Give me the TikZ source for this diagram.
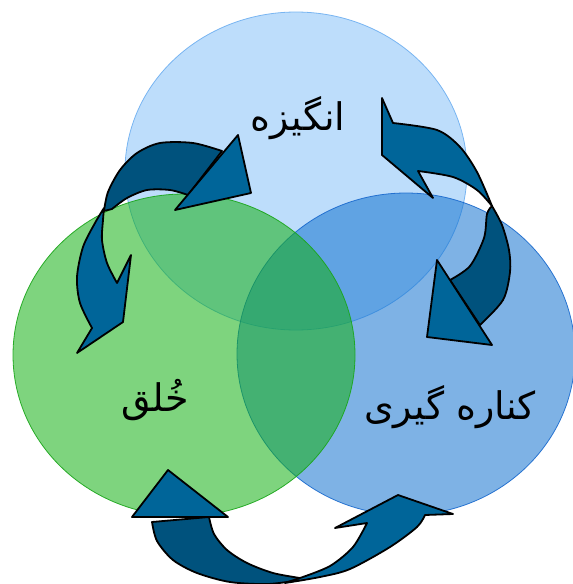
\documentclass[tikz,border=0pt]{standalone}
\usepackage{fontspec}
\newfontfamily\farsifont[Script=Arabic]{DejaVu Sans}
\TeXXeTstate=1
\definecolor{topblue}{RGB}{135,193,248}
\definecolor{topedge}{RGB}{110,175,240}
\definecolor{rightblue}{RGB}{20,115,208}
\definecolor{rightedge}{RGB}{25,105,205}
\definecolor{moodgreen}{RGB}{20,177,20}
\definecolor{moodedge}{RGB}{25,165,25}
\definecolor{arrowlight}{RGB}{0,101,153}
\definecolor{arrowdark}{RGB}{0,82,125}

\begin{document}
\begin{tikzpicture}[x=1pt, y=-1pt,
  venn/.style={fill opacity=0.55, draw opacity=0.9, line width=0.8pt},
  darkband/.style={fill=arrowdark, draw=black, line width=1.8pt, line join=round},
  lightband/.style={fill=arrowlight, draw=black, line width=1.8pt, line join=round},
  farsilabel/.style={font=\farsifont\fontsize{38}{44}\selectfont}]
  \useasboundingbox (0,0) rectangle (573,584);

  \filldraw[venn, fill=topblue, draw=topedge] (296,171) ellipse [x radius=171pt, y radius=159pt];
  \filldraw[venn, fill=rightblue, draw=rightedge] (406,354) ellipse [x radius=169pt, y radius=161pt];
  \filldraw[venn, fill=moodgreen, draw=moodedge] (184,355) ellipse [x radius=171pt, y radius=161pt];

  \node[farsilabel] (motive) at (298,118) {\beginR انگیزه\endR};
  \node[farsilabel] (mood) at (155,400) {\beginR خُلق\endR};
  \node[farsilabel] (withdrawal) at (450,407) {\beginR کناره گیری\endR};

  \filldraw[darkband] plot[smooth] coordinates {(222,151) (193,143) (160,143) (137,153) (120,170) (108,192) (104,211)}
    -- plot[smooth] coordinates {(112,209) (127,198) (147,190) (170,190) (188,195)} -- cycle;
  \filldraw[lightband] plot[smooth] coordinates {(104,208) (95,223) (83,247) (77,277) (80,303) (92,328)}
    -- (77,353) -- (123,322) -- (131,255)
    -- plot[smooth] coordinates {(117,283) (107,263) (102,240) (103,220) (104,208)} -- cycle;
  \filldraw[lightband] (238,135) -- (251,193) -- (175,210) -- cycle;

  \filldraw[lightband] (393,123) -- (382,98) -- (382,155) -- (433,198)
    -- plot[smooth] coordinates {(418,171) (453,177) (477,190) (492,206)}
    -- plot[smooth] coordinates {(492,206) (477,172) (460,147) (437,130) (393,123)} -- cycle;
  \filldraw[darkband] plot[smooth] coordinates {(492,206) (502,225) (509,250) (510,272) (503,300) (480,325)}
    -- plot[smooth] coordinates {(450,280) (470,266) (484,238) (487,214) (492,206)} -- cycle;
  \filldraw[lightband] (437,260) -- (492,345) -- (427,337) -- cycle;

  \filldraw[darkband] plot[smooth] coordinates {(152,522) (157,541) (173,560) (197,573) (230,582) (268,584) (300,580)}
    -- plot[smooth] coordinates {(300,578) (273,573) (247,563) (227,550) (214,534) (209,517)} -- cycle;
  \filldraw[lightband] (168,470) -- (228,517) -- (132,517) -- cycle;
  \filldraw[lightband] plot[smooth] coordinates {(285,583) (320,577) (350,569) (390,547) (417,527) (425,515)}
    -- (453,514) -- (398,495) -- (335,528)
    -- plot[smooth] coordinates {(367,523) (353,547) (330,566) (300,578)} -- cycle;
\end{tikzpicture}
\end{document}
